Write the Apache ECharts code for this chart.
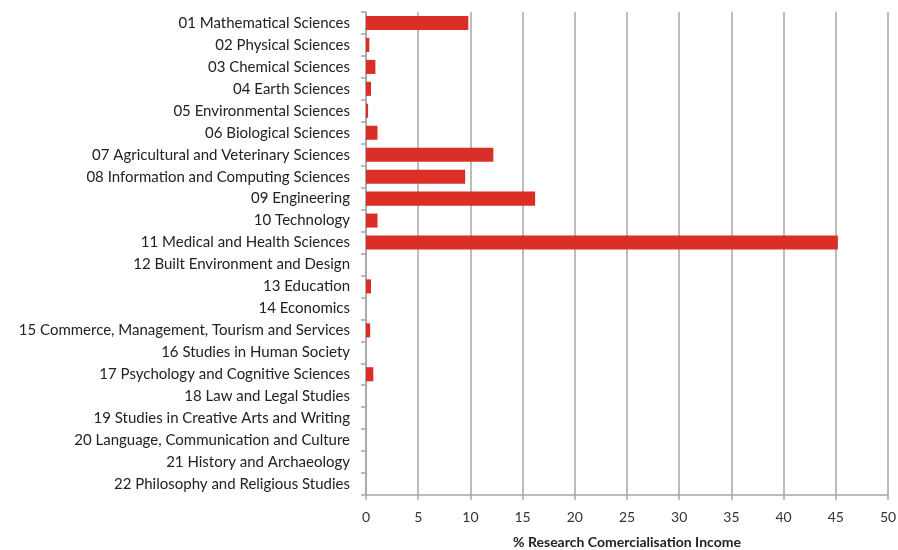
<!DOCTYPE html>
<html><head><meta charset="utf-8">
<script src="https://cdn.jsdelivr.net/npm/echarts@6/dist/echarts.min.js"></script>
<style>html,body{margin:0;padding:0;background:#fff}#c{width:898px;height:550px}</style>
</head><body><div id="c"></div>
<script>
const categories = [
"01 Mathematical Sciences","02 Physical Sciences","03 Chemical Sciences","04 Earth Sciences",
"05 Environmental Sciences","06 Biological Sciences","07 Agricultural and Veterinary Sciences",
"08 Information and Computing Sciences","09 Engineering","10 Technology","11 Medical and Health Sciences",
"12 Built Environment and Design","13 Education","14 Economics","15 Commerce, Management, Tourism and Services",
"16 Studies in Human Society","17 Psychology and Cognitive Sciences","18 Law and Legal Studies",
"19 Studies in Creative Arts and Writing","20 Language, Communication and Culture",
"21 History and Archaeology","22 Philosophy and Religious Studies"];
const values = [9.8,0.32,0.9,0.48,0.2,1.1,12.2,9.5,16.2,1.1,45.2,0,0.48,0,0.4,0,0.7,0,0,0,0,0];
const xTicks = {min:0,max:50,interval:5};
const xTitle = "% Research Comercialisation Income";
const font = "Lato, 'Open Sans', sans-serif";
const chart = echarts.init(document.getElementById('c'), null, {renderer:'canvas'});
chart.setOption({
  animation:false,
  grid:{left:366,right:10,top:12,bottom:55,containLabel:false,outerBoundsMode:'none'},
  xAxis:{type:'value',min:xTicks.min,max:xTicks.max,interval:xTicks.interval,
    name:xTitle,nameLocation:'middle',nameGap:40,
    nameTextStyle:{fontFamily:font,fontWeight:'bold',fontSize:14,color:'#222'},
    axisLine:{show:true,lineStyle:{color:'#a6a6a6',width:1.5}},
    axisTick:{show:true,length:5,lineStyle:{color:'#a6a6a6',width:1.5}},
    axisLabel:{fontFamily:font,fontSize:14,color:'#333',margin:15},
    splitLine:{show:true,lineStyle:{color:'#a6a6a6',width:1.5}}},
  yAxis:{type:'category',data:categories,inverse:true,
    axisLine:{show:true,lineStyle:{color:'#a6a6a6',width:1.5}},
    axisTick:{show:true,length:5,lineStyle:{color:'#a6a6a6',width:1.5}},
    axisLabel:{fontFamily:font,fontSize:15,color:'#222',margin:16},
    splitLine:{show:false}},
  series:[{type:'bar',data:values,barCategoryGap:'36%',
    itemStyle:{color:'#d92f27'}}]
});
</script></body></html>
